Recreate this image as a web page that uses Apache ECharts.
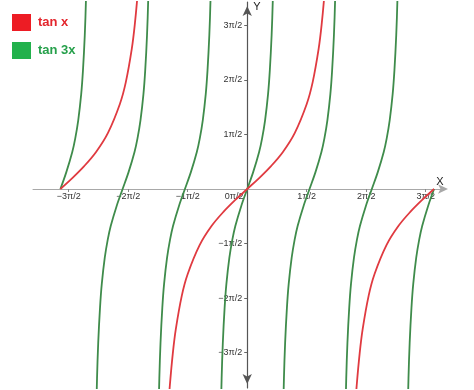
<!DOCTYPE html>
<html>
<head>
<meta charset="utf-8">
<script src="https://cdn.jsdelivr.net/npm/echarts@6/dist/echarts.min.js"></script>
<style>
html,body{margin:0;padding:0;background:#fff;}
#chart{width:474px;height:390px;}
</style>
</head>
<body>
<div id="chart"></div>
<script>
// ---- data (x in radians, y in plain units) ----
const legendNames = ['tan x', 'tan 3x'];

const xTickValues = [-3, -2, -1, 0, 1, 2, 3];
const xTickLabels = ['−3π/2', '−2π/2', '−1π/2', '0π/2', '1π/2', '2π/2', '3π/2'];
const yTickValues = [-3, -2, -1, 1, 2, 3];
const yTickLabels = ['−3π/2', '−2π/2', '−1π/2', '1π/2', '2π/2', '3π/2'];

// tan x branches
const tanXLeft = [[-3.14,0],[-2.94,0.20],[-2.74,0.42],[-2.54,0.68],[-2.34,1.03],[-2.14,1.56],[-2.04,1.96],[-1.94,2.57],[-1.89,3.01],[-1.84,3.60],[-1.81,4.07]];
const tanXMiddle = [[-1.33,-4.07],[-1.30,-3.60],[-1.25,-3.01],[-1.20,-2.57],[-1.10,-1.96],[-1.00,-1.56],[-0.80,-1.03],[-0.60,-0.68],[-0.40,-0.42],[-0.20,-0.20],[0,0],[0.20,0.20],[0.40,0.42],[0.60,0.68],[0.80,1.03],[1.00,1.56],[1.10,1.96],[1.20,2.57],[1.25,3.01],[1.30,3.60],[1.33,4.07]];
const tanXRight = [[1.81,-4.07],[1.84,-3.60],[1.89,-3.01],[1.94,-2.57],[2.04,-1.96],[2.14,-1.56],[2.34,-1.03],[2.54,-0.68],[2.74,-0.42],[2.94,-0.20],[3.14,0]];

// tan 3x branches
const tan3xB1 = [[-3.14,0],[-3.04,0.31],[-2.94,0.68],[-2.89,0.93],[-2.84,1.26],[-2.79,1.74],[-2.76,2.18],[-2.73,2.82],[-2.71,3.47],[-2.69,4.46]];
const tan3xB2 = [[-2.544,-4.46],[-2.524,-3.47],[-2.504,-2.82],[-2.474,-2.18],[-2.444,-1.74],[-2.394,-1.26],[-2.344,-0.93],[-2.294,-0.68],[-2.194,-0.31],[-2.094,0],[-1.994,0.31],[-1.894,0.68],[-1.844,0.93],[-1.794,1.26],[-1.744,1.74],[-1.714,2.18],[-1.684,2.82],[-1.664,3.47],[-1.644,4.46]];
const tan3xB3 = [[-1.497,-4.46],[-1.477,-3.47],[-1.457,-2.82],[-1.427,-2.18],[-1.397,-1.74],[-1.347,-1.26],[-1.297,-0.93],[-1.247,-0.68],[-1.147,-0.31],[-1.047,0],[-0.947,0.31],[-0.847,0.68],[-0.797,0.93],[-0.747,1.26],[-0.697,1.74],[-0.667,2.18],[-0.637,2.82],[-0.617,3.47],[-0.597,4.46]];
const tan3xB4 = [[-0.45,-4.46],[-0.43,-3.47],[-0.41,-2.82],[-0.38,-2.18],[-0.35,-1.74],[-0.30,-1.26],[-0.25,-0.93],[-0.20,-0.68],[-0.10,-0.31],[0,0],[0.10,0.31],[0.20,0.68],[0.25,0.93],[0.30,1.26],[0.35,1.74],[0.38,2.18],[0.41,2.82],[0.43,3.47],[0.45,4.46]];
const tan3xB5 = [[0.597,-4.46],[0.617,-3.47],[0.637,-2.82],[0.667,-2.18],[0.697,-1.74],[0.747,-1.26],[0.797,-0.93],[0.847,-0.68],[0.947,-0.31],[1.047,0],[1.147,0.31],[1.247,0.68],[1.297,0.93],[1.347,1.26],[1.397,1.74],[1.427,2.18],[1.457,2.82],[1.477,3.47],[1.497,4.46]];
const tan3xB6 = [[1.644,-4.46],[1.664,-3.47],[1.684,-2.82],[1.714,-2.18],[1.744,-1.74],[1.794,-1.26],[1.844,-0.93],[1.894,-0.68],[1.994,-0.31],[2.094,0],[2.194,0.31],[2.294,0.68],[2.344,0.93],[2.394,1.26],[2.444,1.74],[2.474,2.18],[2.504,2.82],[2.524,3.47],[2.544,4.46]];
const tan3xB7 = [[2.69,-4.46],[2.71,-3.47],[2.73,-2.82],[2.76,-2.18],[2.79,-1.74],[2.84,-1.26],[2.89,-0.93],[2.94,-0.68],[3.04,-0.31],[3.14,0]];

const tanXBranches = [tanXLeft, tanXMiddle, tanXRight];
const tan3xBranches = [tan3xB1, tan3xB2, tan3xB3, tan3xB4, tan3xB5, tan3xB6, tan3xB7];

// ---- layout / styling ----
const X_MIN = -3.6, X_MAX = 3.29, Y_MIN = -3.65, Y_MAX = 3.43;
const GRID = { left: 33, right: 31, top: 2, bottom: 2 };
const W = 474, H = 390;
const gridW = W - GRID.left - GRID.right;
const gridH = H - GRID.top - GRID.bottom;
// place the axes on the zero lines using the axis offset
const xAxisOffset = -(gridH * (0 - Y_MIN) / (Y_MAX - Y_MIN));
const yAxisOffset = -(gridW * (0 - X_MIN) / (X_MAX - X_MIN));

const RED_LINE = '#e03a40';
const GREEN_LINE = '#3f8c4b';
const FONT = '"Liberation Sans", Arial, sans-serif';

function branchSeries(name, color, data) {
  return {
    name: name,
    type: 'line',
    data: data,
    smooth: 0.35,
    showSymbol: false,
    symbol: 'none',
    clip: true,
    silent: true,
    color: color,
    lineStyle: { color: color, width: 1.8 }
  };
}

const series = [];
tan3xBranches.forEach(b => series.push(branchSeries('tan 3x', GREEN_LINE, b)));
tanXBranches.forEach(b => series.push(branchSeries('tan x', RED_LINE, b)));

const chart = echarts.init(document.getElementById('chart'), null, { renderer: 'canvas' });
chart.setOption({
  animation: false,
  backgroundColor: '#ffffff',
  textStyle: { fontFamily: FONT },
  legend: {
    orient: 'vertical',
    left: 12,
    top: 14,
    padding: 0,
    itemWidth: 19,
    itemHeight: 17,
    itemGap: 11,
    icon: 'rect',
    selectedMode: false,
    textStyle: { fontSize: 13, fontWeight: 'bold', fontFamily: FONT, padding: [0, 0, 0, 2] },
    data: [
      { name: legendNames[0], icon: 'rect', itemStyle: { color: '#ed1c24' }, textStyle: { color: '#e3262d' } },
      { name: legendNames[1], icon: 'rect', itemStyle: { color: '#22b14c' }, textStyle: { color: '#26a04b' } }
    ]
  },
  grid: Object.assign({ containLabel: false, outerBoundsMode: 'none' }, GRID),
  xAxis: {
    type: 'value',
    position: 'bottom',
    offset: xAxisOffset,
    min: X_MIN,
    max: X_MAX,
    splitLine: { show: false },
    name: 'X',
    nameLocation: 'end',
    nameGap: -3,
    nameMoveOverlap: false,
    nameTextStyle: { color: '#222', fontSize: 11, align: 'center', verticalAlign: 'bottom', padding: [0, 0, 2, 0] },
    axisLine: {
      onZero: false,
      lineStyle: { color: '#a8a8a8', width: 1 },
      symbol: ['none', 'arrow'],
      symbolSize: [7, 10],
      symbolOffset: [0, 5]
    },
    axisTick: { show: true, length: 3, customValues: xTickValues.filter(v => v !== 0), lineStyle: { color: '#888' } },
    axisLabel: {
      customValues: xTickValues,
      hideOverlap: false,
      margin: 3,
      fontSize: 9,
      color: '#333',
      formatter: function (v) {
        const i = xTickValues.indexOf(Math.round(v));
        const t = i >= 0 ? xTickLabels[i] : '';
        return Math.round(v) === 0 ? '{z|' + t + '}' : t;
      },
      rich: { z: { fontSize: 9, color: '#333', padding: [0, 26, 0, 0] } }
    }
  },
  yAxis: {
    type: 'value',
    position: 'left',
    offset: yAxisOffset,
    min: Y_MIN,
    max: Y_MAX,
    splitLine: { show: false },
    name: 'Y',
    nameLocation: 'end',
    nameGap: -5,
    nameMoveOverlap: false,
    nameTextStyle: { color: '#222', fontSize: 11, align: 'left', verticalAlign: 'middle', padding: [0, 0, 0, 6] },
    axisLine: {
      onZero: false,
      lineStyle: { color: '#555', width: 1.2 },
      symbol: ['arrow', 'arrow'],
      symbolSize: [7, 10],
      symbolOffset: [4, -4]
    },
    axisTick: { show: true, length: 3, customValues: yTickValues, lineStyle: { color: '#666' } },
    axisLabel: {
      customValues: yTickValues,
      hideOverlap: false,
      margin: 5,
      fontSize: 9,
      color: '#333',
      formatter: function (v) {
        const i = yTickValues.indexOf(Math.round(v));
        return i >= 0 ? yTickLabels[i] : '';
      }
    }
  },
  series: series
});
</script>
</body>
</html>
